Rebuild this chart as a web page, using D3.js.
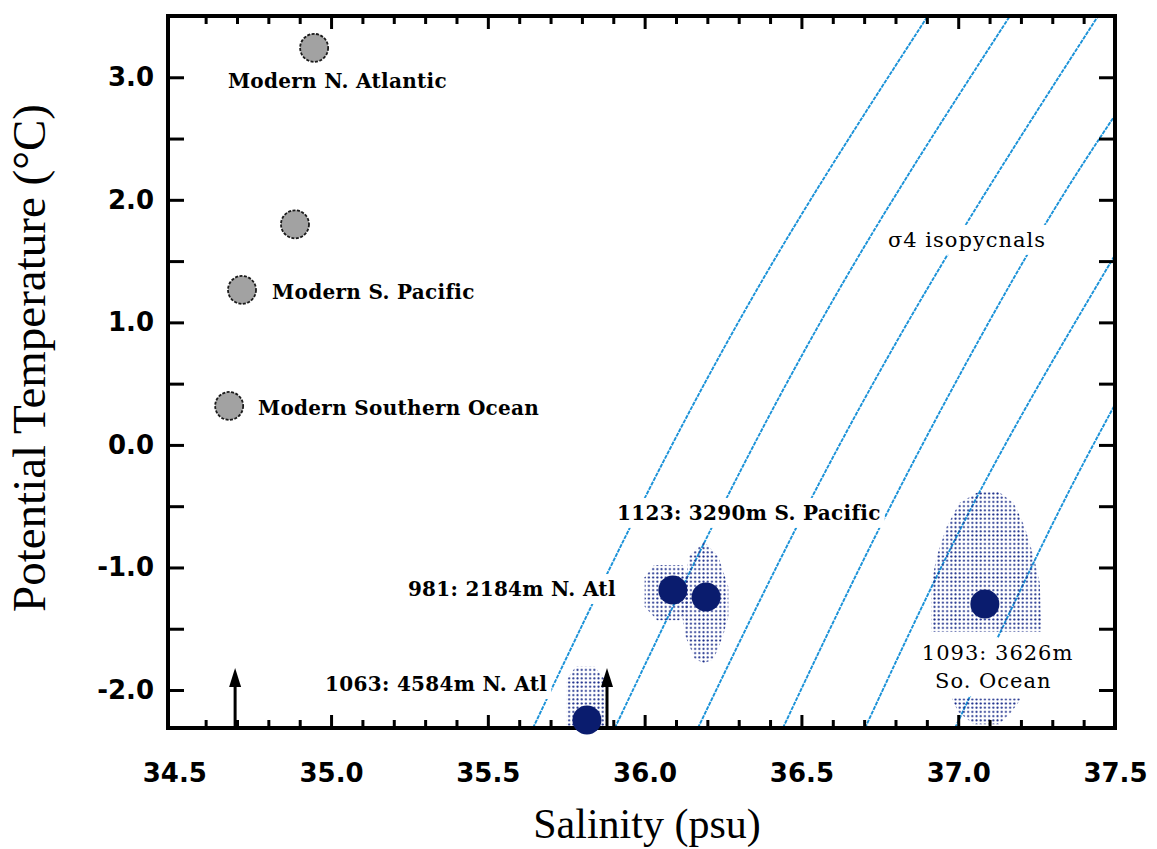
<!DOCTYPE html>
<html>
<head>
<meta charset="utf-8">
<script src="https://cdn.jsdelivr.net/npm/d3@7"></script>
<style>
body { margin: 0; background: #fff; }
svg { display: block; }
</style>
</head>
<body>
<svg id="draw" width="1157" height="849"></svg>
<script>
// modern deep waters (gray dots)
let modernSal = [34.946, 34.885, 34.716, 34.675];
let modernTemp = [3.24, 1.80, 1.265, 0.318];

// glacial pore-water sites (navy dots)
let siteSal = [36.09, 36.196, 35.816, 37.085];
let siteTemp = [-1.184, -1.241, -2.245, -1.298];

// stippled uncertainty envelopes, [salinity, temperature]
let envelope981 = [[36.03, -0.98], [36.12, -0.98], [36.14, -1.08], [36.14, -1.32], [36.11, -1.43], [36.04, -1.43], [36.0, -1.32], [36.0, -1.08]];
let envelope1123 = [[36.19, -0.79], [36.235, -0.91], [36.267, -1.16], [36.267, -1.40], [36.25, -1.56], [36.22, -1.75], [36.19, -1.78], [36.16, -1.75], [36.13, -1.56], [36.12, -1.40], [36.13, -1.16], [36.14, -0.91]];
let envelope1063 = [[35.78, -1.81], [35.84, -1.81], [35.876, -1.92], [35.876, -2.31], [35.75, -2.31], [35.75, -1.92]];
let envelope1093 = [[37.065, -0.383], [37.129, -0.383], [37.177, -0.473], [37.212, -0.668], [37.241, -0.913], [37.26, -1.125], [37.266, -1.524], [36.915, -1.524], [36.915, -1.125], [36.931, -0.913], [36.963, -0.668], [37.004, -0.473]];
let envelope1093b = [[36.98, -2.07], [37.20, -2.07], [37.17, -2.18], [37.13, -2.28], [37.05, -2.28], [37.0, -2.18]];

// sigma-4 isopycnals
let isopycnals = [
    [[35.644, -2.31], [36.011, -0.38], [36.425, 1.56], [36.903, 3.5]],
    [[35.905, -2.31], [36.272, -0.38], [36.687, 1.56], [37.165, 3.5]],
    [[36.170, -2.31], [36.543, -0.38], [36.968, 1.56], [37.446, 3.5]],
    [[36.441, -2.31], [36.808, -0.38], [37.222, 1.56], [37.5, 2.69]],
    [[36.703, -2.31], [37.069, -0.38], [37.5, 1.55]],
    [[36.990, -2.31], [37.294, -0.68], [37.5, 0.33]]
];

// arrows (lower limits)
let arrowSal = [34.694, 35.880];
let arrowTop = -1.82;

// annotations
let labelText = ["Modern N. Atlantic", "Modern S. Pacific", "Modern Southern Ocean", "σ4 isopycnals",
    "1123: 3290m S. Pacific", "981: 2184m N. Atl", "1063: 4584m N. Atl", "1093: 3626m", "So. Ocean"];
let labelSal = [34.671, 34.812, 34.767, 36.776, 35.912, 35.245, 34.981, 36.884, 36.926];
let labelTemp = [2.914, 1.192, 0.245, 1.616, -0.612, -1.233, -2.008, -1.755, -1.984];
let labelBold = [true, true, true, false, true, true, true, false, false];

let xTicks = [34.5, 35.0, 35.5, 36.0, 36.5, 37.0, 37.5];
let yTicks = [-2.0, -1.0, 0.0, 1.0, 2.0, 3.0];

let svg = d3.select("#draw");
let x = d3.scaleLinear().domain([34.48, 37.5]).range([168, 1115]);
let y = d3.scaleLinear().domain([-2.31, 3.5]).range([728, 16]);
let navy = "#0a1c6e", iso = "#1b92d8";
let fmt = d => d.toFixed(1);   // plain hyphen minus like the original

let defs = svg.append("defs");
defs.append("clipPath").attr("id", "plot")
    .append("rect")
    .attr("x", x(34.48)).attr("y", y(3.5) - 2)
    .attr("width", x(37.5) - x(34.48)).attr("height", y(-2.31) - y(3.5) + 9);
let pat = defs.append("pattern")
    .attr("id", "stipple")
    .attr("width", 4.2).attr("height", 4.2)
    .attr("patternUnits", "userSpaceOnUse");
pat.append("circle")
    .attr("cx", 2.1).attr("cy", 2.1).attr("r", 1.05)
    .attr("fill", "#1a2c8a");

let line = d3.line().x(d => x(d[0])).y(d => y(d[1])).curve(d3.curveNatural);

// isopycnals
svg.append("g")
    .attr("clip-path", "url(#plot)")
    .selectAll("path")
    .data(isopycnals)
    .enter()
    .append("path")
    .attr("d", line)
    .attr("fill", "none")
    .attr("stroke", iso)
    .attr("stroke-width", 1.9)
    .attr("stroke-dasharray", "4,1");

// stipple envelopes
let poly = d3.line().x(d => x(d[0])).y(d => y(d[1])).curve(d3.curveLinearClosed);
svg.append("g")
    .attr("clip-path", "url(#plot)")
    .selectAll("path")
    .data([envelope981, envelope1123, envelope1063, envelope1093, envelope1093b])
    .enter()
    .append("path")
    .attr("d", poly)
    .attr("fill", "url(#stipple)");

// labels with white backing
let labels = svg.append("g");
labelText.forEach((t, i) => {
    let g = labels.append("g");
    let bg = g.append("rect").attr("fill", "#fff");
    let txt = g.append("text")
        .attr("x", x(labelSal[i]))
        .attr("y", y(labelTemp[i]))
        .attr("font-family", "DejaVu Serif")
        .attr("font-size", labelBold[i] ? 20 : 21)
        .attr("font-weight", labelBold[i] ? "bold" : "normal")
        .attr("letter-spacing", labelBold[i] ? 0.3 : 1)
        .attr("fill", "#000")
        .text(t);
    let b = txt.node().getBBox();
    bg.attr("x", b.x - 4).attr("y", b.y - 3)
        .attr("width", b.width + 8).attr("height", b.height + 6);
});

// axes: ticks pointing inward on all four sides
let minorX = d3.range(34.6, 37.45, 0.1).map(v => +v.toFixed(1)).filter(v => Math.round(v * 10) % 5 !== 0);
let majorX = xTicks.slice(1, -1);
let yMarks = d3.range(-2.0, 3.01, 0.5);

function tickAxis(axis, values, size, transform) {
    svg.append("g")
        .attr("transform", transform)
        .call(axis.tickValues(values).tickSize(size).tickFormat(""))
        .call(g => g.select(".domain").remove())
        .call(g => g.selectAll("line").attr("stroke", "#000").attr("stroke-width", 3));
}
tickAxis(d3.axisBottom(x), minorX, -8, `translate(0,${y(-2.31)})`);
tickAxis(d3.axisBottom(x), majorX, -13, `translate(0,${y(-2.31)})`);
tickAxis(d3.axisTop(x), minorX, -8, `translate(0,${y(3.5)})`);
tickAxis(d3.axisTop(x), majorX, -13, `translate(0,${y(3.5)})`);
tickAxis(d3.axisLeft(y), yMarks, -16, `translate(${x(34.48)},0)`);
tickAxis(d3.axisRight(y), yMarks, -16, `translate(${x(37.5)},0)`);

svg.append("rect")
    .attr("x", x(34.48)).attr("y", y(3.5))
    .attr("width", x(37.5) - x(34.48)).attr("height", y(-2.31) - y(3.5))
    .attr("fill", "none").attr("stroke", "#000").attr("stroke-width", 4);

// arrows
let arrows = svg.append("g");
arrowSal.forEach(s => {
    arrows.append("line")
        .attr("x1", x(s)).attr("x2", x(s))
        .attr("y1", y(-2.31)).attr("y2", y(arrowTop) + 8)
        .attr("stroke", "#000").attr("stroke-width", 3);
    arrows.append("path")
        .attr("d", `M${x(s)},${y(arrowTop)} L${x(s) + 6},${y(arrowTop) + 19} L${x(s) - 6},${y(arrowTop) + 19}Z`)
        .attr("fill", "#000");
});

// points (on top of the frame, as in the original)
svg.append("g")
    .selectAll("circle")
    .data(modernSal)
    .enter()
    .append("circle")
    .attr("cx", d => x(d))
    .attr("cy", (d, i) => y(modernTemp[i]))
    .attr("r", 14)
    .attr("fill", "#a2a2a2")
    .attr("stroke", "#1a1a1a")
    .attr("stroke-width", 1.8)
    .attr("stroke-dasharray", "3,1.5");
svg.append("g")
    .selectAll("circle")
    .data(siteSal)
    .enter()
    .append("circle")
    .attr("cx", d => x(d))
    .attr("cy", (d, i) => y(siteTemp[i]))
    .attr("r", 14.5)
    .attr("fill", navy);

// tick labels
svg.append("g")
    .attr("transform", `translate(0,${y(-2.31)})`)
    .call(d3.axisBottom(x).tickValues(xTicks).tickSize(0).tickPadding(36).tickFormat(fmt))
    .call(g => g.select(".domain").remove())
    .call(g => g.selectAll("text")
        .attr("font-family", "DejaVu Sans").attr("font-weight", "bold")
        .attr("font-size", 26).attr("fill", "#000"));
svg.append("g")
    .attr("transform", `translate(${x(34.48)},0)`)
    .call(d3.axisLeft(y).tickValues(yTicks).tickSize(0).tickPadding(14).tickFormat(fmt))
    .call(g => g.select(".domain").remove())
    .call(g => g.selectAll("text")
        .attr("font-family", "DejaVu Sans").attr("font-weight", "bold")
        .attr("font-size", 26).attr("fill", "#000"));

// axis titles
svg.append("text")
    .attr("x", 647).attr("y", 838)
    .attr("text-anchor", "middle")
    .attr("font-family", "Liberation Serif")
    .attr("font-size", 42)
    .text("Salinity (psu)");
svg.append("text")
    .attr("transform", "translate(45,358) rotate(-90)")
    .attr("text-anchor", "middle")
    .attr("font-family", "Liberation Serif")
    .attr("font-size", 47)
    .text("Potential Temperature (°C)");
</script>
</body>
</html>
